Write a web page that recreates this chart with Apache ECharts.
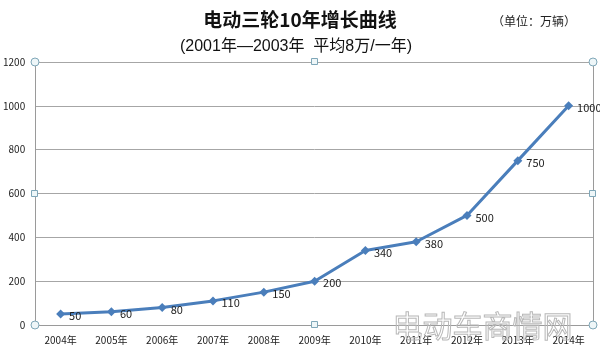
<!DOCTYPE html>
<html><head><meta charset="utf-8">
<script src="https://cdn.jsdelivr.net/npm/echarts@6/dist/echarts.min.js"></script>
<style>html,body{margin:0;padding:0;background:#fff}#c{width:600px;height:356px}</style>
</head><body><div id="c"></div>
<script>
const categories = ['2004年','2005年','2006年','2007年','2008年','2009年','2010年','2011年','2012年','2013年','2014年'];
const values = [50,60,80,110,150,200,340,380,500,750,1000];
const yTicks = [0,200,400,600,800,1000,1200];

const chart = echarts.init(document.getElementById('c'), null, {renderer:'canvas'});
const font = '"Noto Sans CJK SC", "DejaVu Sans", sans-serif';
chart.setOption({
  animation:false,
  backgroundColor:'#fff',
  title:[
    {text:'电动三轮10年增长曲线', left:295, top:5, textAlign:'center',
     textStyle:{fontSize:19, fontWeight:'bold', color:'#111', fontFamily:font}},
    {text:'(2001年—2003年  平均8万/一年)', left:291, top:34, textAlign:'center',
     textStyle:{fontSize:16, fontWeight:'normal', color:'#111', fontFamily:'"Liberation Sans", "Noto Sans CJK SC", sans-serif'}},
    {text:'（单位：万辆）', left:487, top:10,
     textStyle:{fontSize:12, fontWeight:'normal', color:'#222', fontFamily:font}}
  ],
  grid:{left:35, right:6, top:62, bottom:31},
  xAxis:{type:'category', data:categories, boundaryGap:true,
    axisLine:{lineStyle:{color:'#9a9a9a', width:1}},
    axisTick:{show:false},
    axisLabel:{fontSize:10, color:'#222', margin:10, fontFamily:font, interval:0}},
  yAxis:{type:'value', min:yTicks[0], max:yTicks[yTicks.length-1], interval:200,
    axisLine:{show:true, lineStyle:{color:'#9a9a9a'}},
    axisTick:{show:false},
    splitLine:{lineStyle:{color:'#a6a6a6', width:1}},
    axisLabel:{fontSize:10, color:'#222', margin:10, fontFamily:font, formatter:v=>String(v)}},
  series:[{type:'line', data:values, smooth:false,
    lineStyle:{color:'#4a7ebb', width:3},
    itemStyle:{color:'#4a7ebb'},
    symbol:'diamond', symbolSize:9,
    label:{show:true, position:'right', distance:4, offset:[0,2], fontSize:11, color:'#222', fontFamily:font}}],
  graphic:[
    {type:'line', shape:{x1:593.5,y1:62,x2:593.5,y2:325}, style:{stroke:'#9a9a9a', lineWidth:1}, z:1},
    {type:'text', left:392, top:310, style:{text:'电动车商情网', fontSize:30, fontFamily:font, fill:'rgba(255,255,255,0)', stroke:'#b8b8b8', lineWidth:1}, z:10},
    {type:'circle', shape:{cx:35,cy:62,r:4}, style:{fill:'#eef6f8', stroke:'#7fa7b8', lineWidth:1}, z:20},
    {type:'circle', shape:{cx:593,cy:62,r:4}, style:{fill:'#eef6f8', stroke:'#7fa7b8', lineWidth:1}, z:20},
    {type:'circle', shape:{cx:35,cy:325,r:4}, style:{fill:'#eef6f8', stroke:'#7fa7b8', lineWidth:1}, z:20},
    {type:'circle', shape:{cx:593,cy:325,r:4}, style:{fill:'#eef6f8', stroke:'#7fa7b8', lineWidth:1}, z:20},
    {type:'rect', shape:{x:31.5,y:190.5,width:6,height:6}, style:{fill:'#eef6f8', stroke:'#7fa7b8', lineWidth:1}, z:20},
    {type:'rect', shape:{x:589.5,y:190.5,width:6,height:6}, style:{fill:'#eef6f8', stroke:'#7fa7b8', lineWidth:1}, z:20},
    {type:'rect', shape:{x:311.5,y:58.5,width:6,height:6}, style:{fill:'#eef6f8', stroke:'#7fa7b8', lineWidth:1}, z:20},
    {type:'rect', shape:{x:311.5,y:321.5,width:6,height:6}, style:{fill:'#eef6f8', stroke:'#7fa7b8', lineWidth:1}, z:20}
  ]
});
</script></body></html>
